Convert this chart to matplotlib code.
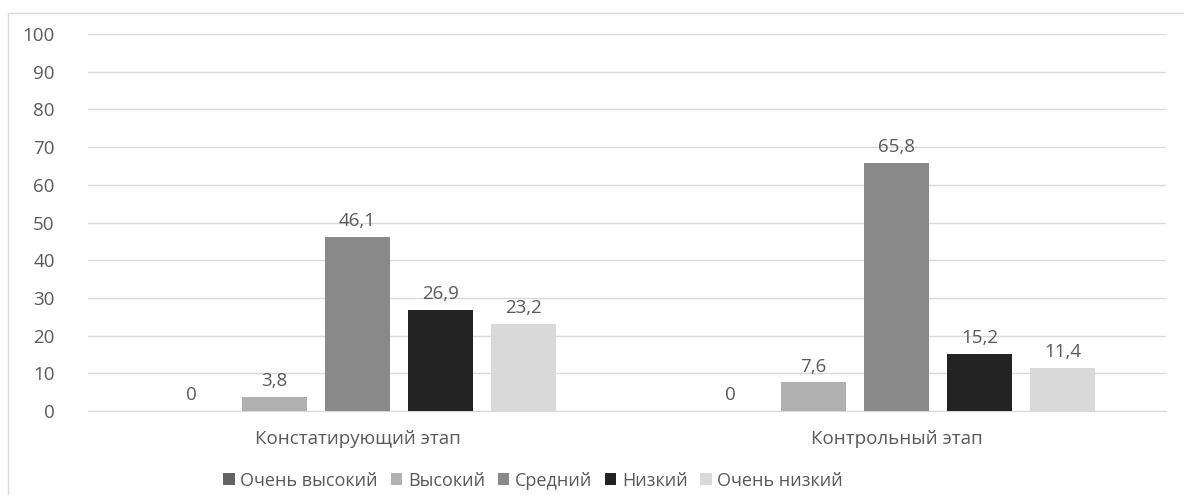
import matplotlib.pyplot as plt
import numpy as np
from matplotlib.patches import Rectangle

categories = ['Констатирующий этап', 'Контрольный этап']
series = ['Очень высокий', 'Высокий', 'Средний', 'Низкий', 'Очень низкий']
values = [
    [0, 0],
    [3.8, 7.6],
    [46.1, 65.8],
    [26.9, 15.2],
    [23.2, 11.4],
]
colors = ['#636363', '#b0b0b0', '#898989', '#232323', '#d9d9d9']

plt.rcParams['font.family'] = ['Open Sans', 'DejaVu Sans']
txt = '#595959'
fs = 13.5

W, H = 1184, 495
fig = plt.figure(figsize=(W / 100, H / 100), dpi=100)
ax = fig.add_axes([88 / W, 1 - 411 / H, (1166 - 88) / W, (411 - 34) / H])

# outer chart border
fig.patches.append(Rectangle((8 / W, -0.01), 1.0, 1 - 13 / H + 0.01,
                             transform=fig.transFigure, fill=False,
                             edgecolor='#d9d9d9', linewidth=1))

x = np.arange(len(categories))
bw = 0.12
step = 0.154
for i, (name, vals) in enumerate(zip(series, values)):
    pos = x + (i - 2) * step
    ax.bar(pos, vals, bw, color=colors[i], label=name, zorder=3)
    for p, v in zip(pos, vals):
        lab = ('%g' % v).replace('.', ',')
        ax.text(p, v + 1.8, lab, ha='center', va='bottom', fontsize=fs, color=txt)

ax.set_xlim(-0.5, 1.5)
ax.set_ylim(0, 100)
ax.set_yticks(range(0, 101, 10))
ax.tick_params(axis='y', length=0, labelsize=fs, labelcolor=txt, pad=24)
ax.set_xticks(x)
ax.set_xticklabels(categories)
ax.tick_params(axis='x', length=0, labelsize=fs, labelcolor=txt, pad=14)
ax.yaxis.grid(True, color='#d9d9d9', linewidth=1, zorder=0)
for s in ['top', 'right', 'left']:
    ax.spines[s].set_visible(False)
ax.spines['bottom'].set_color('#d9d9d9')

ax.legend(loc='center', bbox_to_anchor=(0.413, -0.185), ncol=5, frameon=False,
          fontsize=13, labelcolor=txt, handlelength=0.65, handleheight=0.65,
          handletextpad=0.3, columnspacing=0.7)

fig.savefig('out.png', dpi=100)
